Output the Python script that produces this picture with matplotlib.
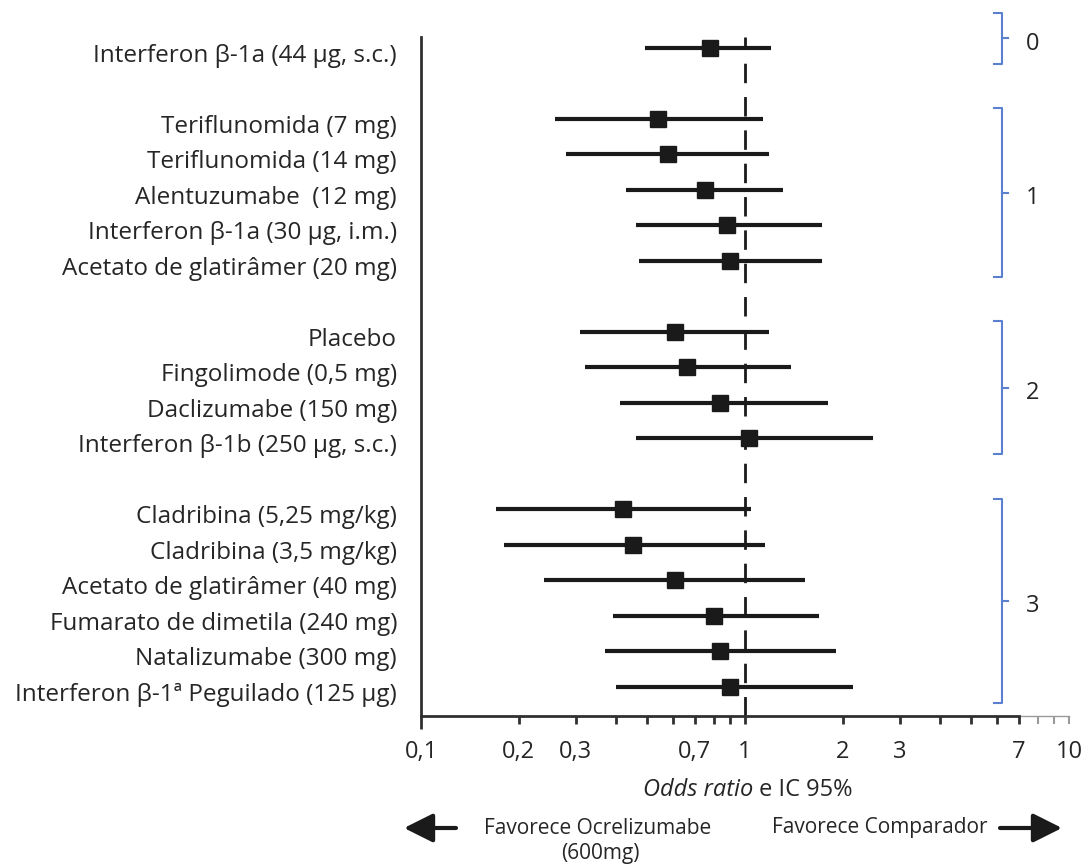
import matplotlib
matplotlib.use("Agg")
import matplotlib.pyplot as plt
import matplotlib.transforms as mtransforms
import numpy as np

# Data
labels = [
    "Interferon β-1a (44 µg, s.c.)",
    "Teriflunomida (7 mg)",
    "Teriflunomida (14 mg)",
    "Alentuzumabe  (12 mg)",
    "Interferon β-1a (30 µg, i.m.)",
    "Acetato de glatirâmer (20 mg)",
    "Placebo",
    "Fingolimode (0,5 mg)",
    "Daclizumabe (150 mg)",
    "Interferon β-1b (250 µg, s.c.)",
    "Cladribina (5,25 mg/kg)",
    "Cladribina (3,5 mg/kg)",
    "Acetato de glatirâmer (40 mg)",
    "Fumarato de dimetila (240 mg)",
    "Natalizumabe (300 mg)",
    "Interferon β-1ª Peguilado (125 µg)",
]
odds_ratio = [0.78, 0.54, 0.58, 0.75, 0.88, 0.90, 0.61, 0.66, 0.84, 1.03,
              0.42, 0.45, 0.61, 0.80, 0.84, 0.90]
ci_low = [0.49, 0.26, 0.28, 0.43, 0.46, 0.47, 0.31, 0.32, 0.41, 0.46,
          0.17, 0.18, 0.24, 0.39, 0.37, 0.40]
ci_high = [1.20, 1.14, 1.19, 1.31, 1.73, 1.73, 1.19, 1.39, 1.80, 2.48,
           1.04, 1.15, 1.53, 1.69, 1.91, 2.15]
group_sizes = [1, 5, 4, 6]
group_names = ["0", "1", "2", "3"]

major_ticks = [0.1, 0.2, 0.3, 0.7, 1, 2, 3, 7, 10]
major_labels = ["0,1", "0,2", "0,3", "0,7", "1", "2", "3", "7", "10"]
minor_ticks = [0.4, 0.5, 0.6, 0.8, 0.9, 4, 5, 6, 8, 9]

FONT = ["Open Sans", "DejaVu Sans"]
plt.rcParams["font.family"] = FONT
TXT = "#262626"
INK = "#1a1a1a"
BLUE = "#5b80d0"
W, H = 1092, 866


def fx(px):
    return px / W


def fy(py):
    return 1 - py / H


# row positions: one blank row between groups
rows = []
pos = 0
for g in group_sizes:
    rows.extend(range(pos, pos + g))
    pos += g + 1
rows = np.array(rows)

fig = plt.figure(figsize=(W / 100, H / 100), dpi=100)
ax = fig.add_axes([fx(421), fy(716), (1069 - 421) / W, (716 - 37) / H])
ax.set_xscale("log")
ax.set_xlim(0.1, 10)
ax.set_ylim(18.82, -0.31)

# reference line at OR = 1
ax.axvline(1, color=INK, lw=2, linestyle=(0, (7, 5)), zorder=1)

# confidence intervals and point estimates
ax.hlines(rows, ci_low, ci_high, color=INK, lw=3, zorder=2)
ax.plot(odds_ratio, rows, "s", color=INK, markersize=11, zorder=3)

# row labels
for r, lab in zip(rows, labels):
    ax.text(-0.037, r + 0.22, lab, transform=ax.get_yaxis_transform(),
            ha="right", va="center", fontsize=17.5, color=TXT)

# axes styling
for s in ["top", "right"]:
    ax.spines[s].set_visible(False)
ax.spines["left"].set_linewidth(2)
ax.spines["left"].set_color("#303030")
ax.spines["bottom"].set_linewidth(2)
ax.spines["bottom"].set_color("#303030")
ax.spines["bottom"].set_bounds(0.1, 7)
ax.plot([7, 10], [0, 0], color="#9a9a9a", lw=1,
        transform=ax.get_xaxis_transform(), clip_on=False)
ax.set_yticks([])

ax.set_xticks(major_ticks)
ax.set_xticklabels(major_labels, fontsize=17, color=TXT)
ax.set_xticks(minor_ticks, minor=True)
ax.xaxis.set_minor_formatter(matplotlib.ticker.NullFormatter())
ax.tick_params(axis="x", which="both", direction="out", length=6, width=2,
               color="#303030", pad=11)
mt = ax.xaxis.get_major_ticks()
mt[0].tick1line.set_markersize(9)
mt[-1].tick1line.set_markeredgecolor("#9a9a9a")
mt[-1].tick1line.set_markeredgewidth(1.5)
for t in ax.xaxis.get_minor_ticks()[-2:]:
    t.tick1line.set_markeredgecolor("#9a9a9a")
    t.tick1line.set_markeredgewidth(1.5)

# group brackets
tr = mtransforms.blended_transform_factory(ax.transAxes, ax.transData)
xl, xv, xr = (994 - 421) / 648, (1002 - 421) / 648, (1008 - 421) / 648
start = 0
for g, name in zip(group_sizes, group_names):
    top = rows[start] - 0.3
    bot = rows[start + g - 1] + 0.45
    if g == 1:
        top = rows[start] - 1.0
    mid = (top + bot) / 2
    ax.plot([xl, xv, xv, xl], [top, top, bot, bot], color=BLUE, lw=1.5,
            transform=tr, clip_on=False)
    ax.plot([xv, xr], [mid, mid], color=BLUE, lw=1.5, transform=tr,
            clip_on=False)
    ax.text((1033 - 421) / 648, mid + 0.15, name, transform=tr, ha="center",
            va="center", fontsize=17, color=TXT)
    start += g

# axis title and direction notes
fig.text(fx(753), fy(790), "Odds ratio", style="italic", ha="right",
         va="center", fontsize=17, color=TXT)
fig.text(fx(759), fy(790), "e IC 95%", ha="left", va="center",
         fontsize=17, color=TXT)
fig.text(fx(598), fy(828), "Favorece Ocrelizumabe", ha="center",
         va="center", fontsize=15, color=TXT)
fig.text(fx(600), fy(854), "(600mg)", ha="center", va="center",
         fontsize=15, color=TXT)
fig.text(fx(880), fy(828), "Favorece Comparador", ha="center",
         va="center", fontsize=15, color=TXT)
arrow = dict(arrowstyle="-|>,head_length=0.8,head_width=0.4", lw=3,
             color=INK, mutation_scale=22, shrinkA=0, shrinkB=0)
ax.annotate("", xy=(fx(404), fy(828)), xytext=(fx(456), fy(828)),
            xycoords="figure fraction", arrowprops=arrow)
ax.annotate("", xy=(fx(1062), fy(828)), xytext=(fx(1000), fy(828)),
            xycoords="figure fraction", arrowprops=arrow)

fig.savefig("out.png", dpi=100)
